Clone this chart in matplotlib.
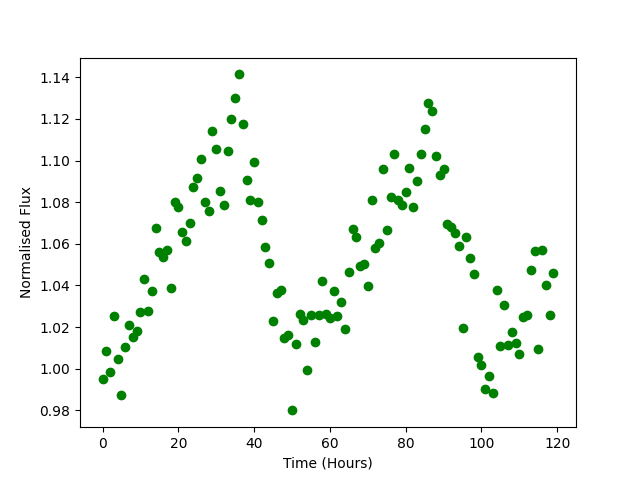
import numpy as np
import matplotlib
matplotlib.use("Agg")
import matplotlib.pyplot as plt

time_hours = list(range(120))
flux = [
    0.9949, 1.0083, 0.9983, 1.0252, 1.0045, 0.9872, 1.0103, 1.0208, 1.0151, 1.0181,
    1.0271, 1.0429, 1.0276, 1.0372, 1.0674, 1.0559, 1.0535, 1.0569, 1.0386, 1.0799,
    1.0778, 1.0655, 1.0612, 1.0698, 1.0871, 1.0914, 1.1006, 1.0799, 1.0756, 1.1140,
    1.1054, 1.0852, 1.0785, 1.1044, 1.1198, 1.1303, 1.1414, 1.1174, 1.0905, 1.0809,
    1.0991, 1.0799, 1.0717, 1.0583, 1.0506, 1.0228, 1.0362, 1.0378, 1.0146, 1.0162,
    0.9800, 1.0117, 1.0263, 1.0234, 0.9994, 1.0258, 1.0128, 1.0258, 1.0421, 1.0263,
    1.0243, 1.0373, 1.0253, 1.0320, 1.0191, 1.0464, 1.0671, 1.0632, 1.0493, 1.0503,
    1.0397, 1.0810, 1.0580, 1.0604, 1.0959, 1.0666, 1.0825, 1.1031, 1.0810, 1.0786,
    1.0847, 1.0962, 1.0777, 1.0900, 1.1034, 1.1150, 1.1275, 1.1236, 1.1020, 1.0929,
    1.0958, 1.0693, 1.0679, 1.0650, 1.0588, 1.0194, 1.0631, 1.0530, 1.0453, 1.0055,
    1.0016, 0.9901, 0.9963, 0.9882, 1.0376, 1.0107, 1.0304, 1.0112, 1.0175, 1.0122,
    1.0069, 1.0247, 1.0256, 1.0473, 1.0564, 1.0093, 1.0569, 1.0400, 1.0256, 1.0458,
]

fig, ax = plt.subplots(figsize=(6.4, 4.8), dpi=100)
ax.plot(time_hours, flux, 'o', color='green')
ax.set_xlabel("Time (Hours)")
ax.set_ylabel("Normalised Flux")
fig.savefig("out.png")
